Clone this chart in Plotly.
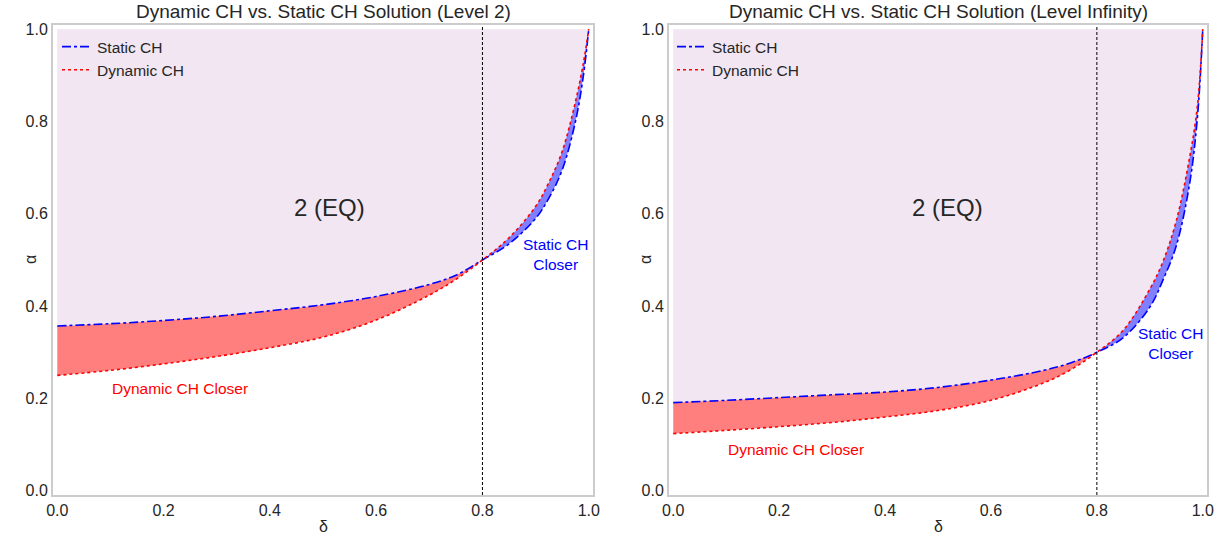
import plotly.graph_objects as go

# ---------------- data ----------------
delta_low = [0.0, 0.1, 0.2, 0.3, 0.4, 0.5, 0.6, 0.7, 0.75, 0.8]
delta_high = [0.8, 0.85, 0.9, 0.925, 0.95, 0.975, 0.99, 1.0]

# Level 2
l2_static_low = [0.357, 0.362, 0.369, 0.378, 0.390, 0.403, 0.421, 0.447, 0.467, 0.5]
l2_dynamic_low = [0.250, 0.261, 0.275, 0.291, 0.310, 0.333, 0.370, 0.424, 0.458, 0.5]
l2_static_high = [0.5, 0.535, 0.590, 0.634, 0.695, 0.800, 0.900, 1.0]
l2_dynamic_high = [0.5, 0.548, 0.616, 0.668, 0.735, 0.843, 0.927, 1.0]

# Level Infinity
li_static_low = [0.191, 0.196, 0.202, 0.208, 0.214, 0.224, 0.240, 0.261, 0.277, 0.3]
li_dynamic_low = [0.124, 0.131, 0.139, 0.148, 0.160, 0.174, 0.196, 0.234, 0.262, 0.3]
li_static_high = [0.3, 0.332, 0.398, 0.457, 0.531, 0.664, 0.810, 1.0]
li_dynamic_high = [0.3, 0.348, 0.437, 0.497, 0.585, 0.721, 0.835, 1.0]

threshold = 0.8
titles = ["Dynamic CH vs. Static CH Solution (Level 2)",
          "Dynamic CH vs. Static CH Solution (Level Infinity)"]
eq_label = "2 (EQ)"
dyn_label = "Dynamic CH Closer"
stat_label = "Static CH<br>Closer"
eq_pos = [(0.513, 0.613), (0.517, 0.613)]
dyn_pos = [(0.1, 0.221), (0.1, 0.09)]
stat_pos = [(0.938, 0.511), (0.94, 0.32)]

panels = [
    (l2_static_low, l2_dynamic_low, l2_static_high, l2_dynamic_high),
    (li_static_low, li_dynamic_low, li_static_high, li_dynamic_high),
]

LAV = "#f1e6f2"
RED_FILL = "rgba(255,0,0,0.5)"
BLUE_FILL = "rgba(0,0,255,0.5)"
FONT = "Liberation Sans, Arial, sans-serif"
TXT = "#262626"

fig = go.Figure()
SM = 1.0

for i, (s_lo, d_lo, s_hi, d_hi) in enumerate(panels):
    xa = "x" if i == 0 else "x2"
    ya = "y" if i == 0 else "y2"
    legend = "legend" if i == 0 else "legend2"
    delta_all = delta_low + delta_high[1:]
    upper = [max(a, b) for a, b in zip(s_lo + s_hi[1:], d_lo + d_hi[1:])]
    ones = [1.0] * len(delta_all)

    # lavender region above the upper curve
    fig.add_trace(go.Scatter(x=delta_all, y=upper, mode="lines", line=dict(width=0, shape="spline", smoothing=SM),
                             showlegend=False, hoverinfo="skip", xaxis=xa, yaxis=ya))
    fig.add_trace(go.Scatter(x=delta_all, y=ones, mode="lines", line=dict(width=0),
                             fill="tonexty", fillcolor=LAV, showlegend=False, hoverinfo="skip",
                             xaxis=xa, yaxis=ya))
    # red region (dynamic closer)
    fig.add_trace(go.Scatter(x=delta_low, y=d_lo, mode="lines", line=dict(width=0, shape="spline", smoothing=SM),
                             showlegend=False, hoverinfo="skip", xaxis=xa, yaxis=ya))
    fig.add_trace(go.Scatter(x=delta_low, y=s_lo, mode="lines", line=dict(width=0, shape="spline", smoothing=SM),
                             fill="tonexty", fillcolor=RED_FILL, showlegend=False, hoverinfo="skip",
                             xaxis=xa, yaxis=ya))
    # blue region (static closer)
    fig.add_trace(go.Scatter(x=delta_high, y=s_hi, mode="lines", line=dict(width=0, shape="spline", smoothing=SM),
                             showlegend=False, hoverinfo="skip", xaxis=xa, yaxis=ya))
    fig.add_trace(go.Scatter(x=delta_high, y=d_hi, mode="lines", line=dict(width=0, shape="spline", smoothing=SM),
                             fill="tonexty", fillcolor=BLUE_FILL, showlegend=False, hoverinfo="skip",
                             xaxis=xa, yaxis=ya))
    # curves
    fig.add_trace(go.Scatter(x=delta_all, y=s_lo + s_hi[1:], mode="lines", name="Static CH",
                             line=dict(color="blue", width=1.6, dash="dashdot", shape="spline", smoothing=SM),
                             xaxis=xa, yaxis=ya, legend=legend, legendrank=1))
    fig.add_trace(go.Scatter(x=delta_all, y=d_lo + d_hi[1:], mode="lines", name="Dynamic CH",
                             line=dict(color="red", width=1.6, dash="dot", shape="spline", smoothing=SM),
                             xaxis=xa, yaxis=ya, legend=legend, legendrank=2))

    fig.add_shape(type="line", x0=threshold, x1=threshold, y0=0, y1=1, xref=xa, yref=f"{ya} domain",
                  line=dict(color="black", width=1, dash="3px,2px"))

    fig.add_annotation(x=eq_pos[i][0], y=eq_pos[i][1], xref=xa, yref=ya, text=eq_label, showarrow=False,
                       xanchor="center", font=dict(size=24, color=TXT, family=FONT))
    fig.add_annotation(x=dyn_pos[i][0], y=dyn_pos[i][1], xref=xa, yref=ya, text=dyn_label, showarrow=False,
                       xanchor="left", font=dict(size=15.5, color="red", family=FONT))
    fig.add_annotation(x=stat_pos[i][0], y=stat_pos[i][1], xref=xa, yref=ya, text=stat_label, showarrow=False,
                       xanchor="center", align="center", font=dict(size=15.5, color="blue", family=FONT))

# titles and axis labels
W, H = 1226, 540
ML, MR, MT, MB = 53, 19, 25, 45
PW = W - ML - MR
PH = H - MT - MB
left_dom = [0, (593 - ML) / PW]
right_dom = [(669 - ML) / PW, 1]
for i, dom in enumerate([left_dom, right_dom]):
    cx = (dom[0] + dom[1]) / 2
    fig.add_annotation(x=cx, y=1 + (MT - 11) / PH, xref="paper", yref="paper", text=titles[i],
                       showarrow=False, xanchor="center", yanchor="middle",
                       font=dict(size=19, color=TXT, family=FONT))
    fig.add_annotation(x=cx, y=(MT + PH - 526) / PH, xref="paper", yref="paper", text="δ",
                       showarrow=False, xanchor="center", yanchor="middle",
                       font=dict(size=16, color=TXT, family=FONT))
    px = 30 if i == 0 else 645
    fig.add_annotation(x=(px - ML) / PW, y=0.5, xref="paper", yref="paper", text="α", textangle=-90,
                       showarrow=False, xanchor="center", yanchor="middle",
                       font=dict(size=16, color=TXT, family=FONT))

axis_common = dict(range=[-0.008, 1.008], tickvals=[0, 0.2, 0.4, 0.6, 0.8, 1.0], tickformat=".1f",
                   showgrid=False, zeroline=False, showline=True, mirror=True, linecolor="#cccccc",
                   linewidth=2, ticks="", tickfont=dict(size=16, color=TXT, family=FONT))
yaxis_common = dict(axis_common, range=[-0.009, 1.009])

fig.update_layout(
    width=W, height=H, margin=dict(l=ML, r=MR, t=MT, b=MB),
    plot_bgcolor="white", paper_bgcolor="white",
    xaxis=dict(axis_common, domain=left_dom, anchor="y"),
    yaxis=dict(yaxis_common, domain=[0, 1], anchor="x"),
    xaxis2=dict(axis_common, domain=right_dom, anchor="y2"),
    yaxis2=dict(yaxis_common, domain=[0, 1], anchor="x2"),
    legend=dict(x=(57 - ML) / PW, y=1 - (30 - MT) / PH, xanchor="left", yanchor="top",
                traceorder="normal", bgcolor="rgba(0,0,0,0)",
                font=dict(size=15.5, color=TXT, family=FONT), tracegroupgap=0),
    legend2=dict(x=(672 - ML) / PW, y=1 - (30 - MT) / PH, xanchor="left", yanchor="top",
                 traceorder="normal", bgcolor="rgba(0,0,0,0)",
                 font=dict(size=15.5, color=TXT, family=FONT), tracegroupgap=0),
    font=dict(family=FONT, color=TXT),
)

fig.write_html("out.html", config={"displayModeBar": False},
               post_script="document.body.style.margin='0';document.body.style.overflow='hidden';")
